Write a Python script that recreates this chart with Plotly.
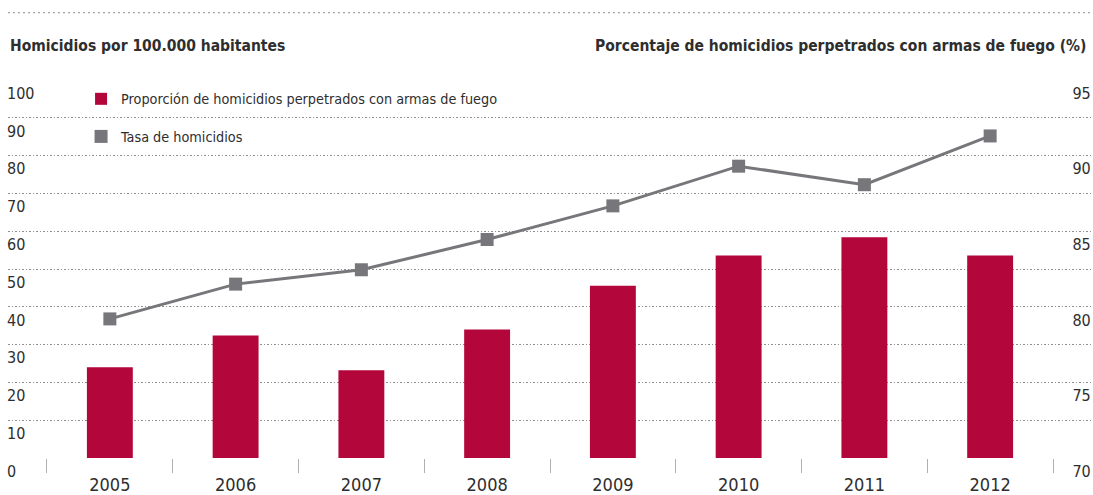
import plotly.graph_objects as go

years = ["2005", "2006", "2007", "2008", "2009", "2010", "2011", "2012"]
pct_firearms = [76.0, 78.1, 75.8, 78.5, 81.4, 83.4, 84.6, 83.4]
homicide_rate = [36.8, 46.0, 49.8, 57.8, 66.7, 77.2, 72.3, 85.2]

left_ticks = [0, 10, 20, 30, 40, 50, 60, 70, 80, 90, 100]
right_ticks = [70, 75, 80, 85, 90, 95]

title_left = "Homicidios por 100.000 habitantes"
title_right = "Porcentaje de homicidios perpetrados con armas de fuego (%)"
name_bar = "Proporción de homicidios perpetrados con armas de fuego"
name_line = "Tasa de homicidios"

RED = "#b3063a"
GREY = "#77777b"
TXT = "#2e2e2e"
FONT = "DejaVu Sans Condensed, Liberation Sans Narrow, sans-serif"

fig = go.Figure()
fig.add_trace(go.Bar(
    x=years, y=pct_firearms, yaxis="y2", name=name_bar,
    marker=dict(color=RED, line=dict(width=0)), width=0.365,
    legendgroup="a", showlegend=True,
))
fig.add_trace(go.Scatter(
    x=years, y=homicide_rate, yaxis="y", mode="lines+markers",
    line=dict(color=GREY, width=3), marker=dict(symbol="square", size=13, color=GREY),
    showlegend=False,
))
fig.add_trace(go.Scatter(
    x=[None], y=[None], mode="markers", name=name_line,
    marker=dict(symbol="square", size=13, color=GREY), legendgroup="b",
))

fig.update_layout(
    width=1093, height=495,
    margin=dict(l=8, r=1, t=80, b=37, autoexpand=False),
    paper_bgcolor="white", plot_bgcolor="white",
    font=dict(family=FONT, size=16, color=TXT),
    showlegend=True,
    legend=dict(x=0.0674, y=0.992, xanchor="left", yanchor="top",
                font=dict(size=14.3, color=TXT), bgcolor="rgba(0,0,0,0)",
                traceorder="grouped", tracegroupgap=16, itemwidth=30),
    xaxis=dict(
        type="category", range=[-0.81, 7.81], showgrid=False, zeroline=False,
        ticks="outside", tickson="boundaries", ticklen=14, tickcolor="#b0b0b0",
        tickfont=dict(size=18, color=TXT), showline=False, automargin=False,
        ticklabelstandoff=14,
    ),
    yaxis=dict(
        range=[0, 100], tickvals=left_ticks, showgrid=True, gridcolor="#8f8f8f",
        griddash="1.5px,2px", gridwidth=1, zeroline=False, showline=False,
        side="right", anchor="free", position=0,
        ticks="", ticklabelposition="outside bottom", tickfont=dict(size=16, color=TXT),
        automargin=False, ticklabelshift=2, ticklabelstandoff=-2,
    ),
    yaxis2=dict(
        range=[70, 95], tickvals=right_ticks, overlaying="y", side="right",
        anchor="free", position=0.981,
        showgrid=False, zeroline=False, showline=False,
        ticks="", ticklabelposition="outside bottom", tickfont=dict(size=16, color=TXT),
        automargin=False, ticklabelshift=2,
    ),
    bargap=0.6,
)

fig.add_shape(type="line", xref="paper", yref="paper", x0=0, x1=1, y0=1.178, y1=1.178,
              line=dict(color="#8f8f8f", width=1, dash="2px,3px"))
fig.add_annotation(xref="paper", yref="paper", x=0, y=1.091, xanchor="left", yanchor="middle",
                   text="<b>" + title_left + "</b>", showarrow=False,
                   font=dict(size=15.5, color=TXT))
fig.add_annotation(xref="paper", yref="paper", x=0.9965, y=1.091, xanchor="right", yanchor="middle",
                   text="<b>" + title_right + "</b>", showarrow=False,
                   font=dict(size=15.5, color=TXT))

fig.write_html("out.html", config={"displayModeBar": False},
               post_script="document.body.style.margin='0';")
